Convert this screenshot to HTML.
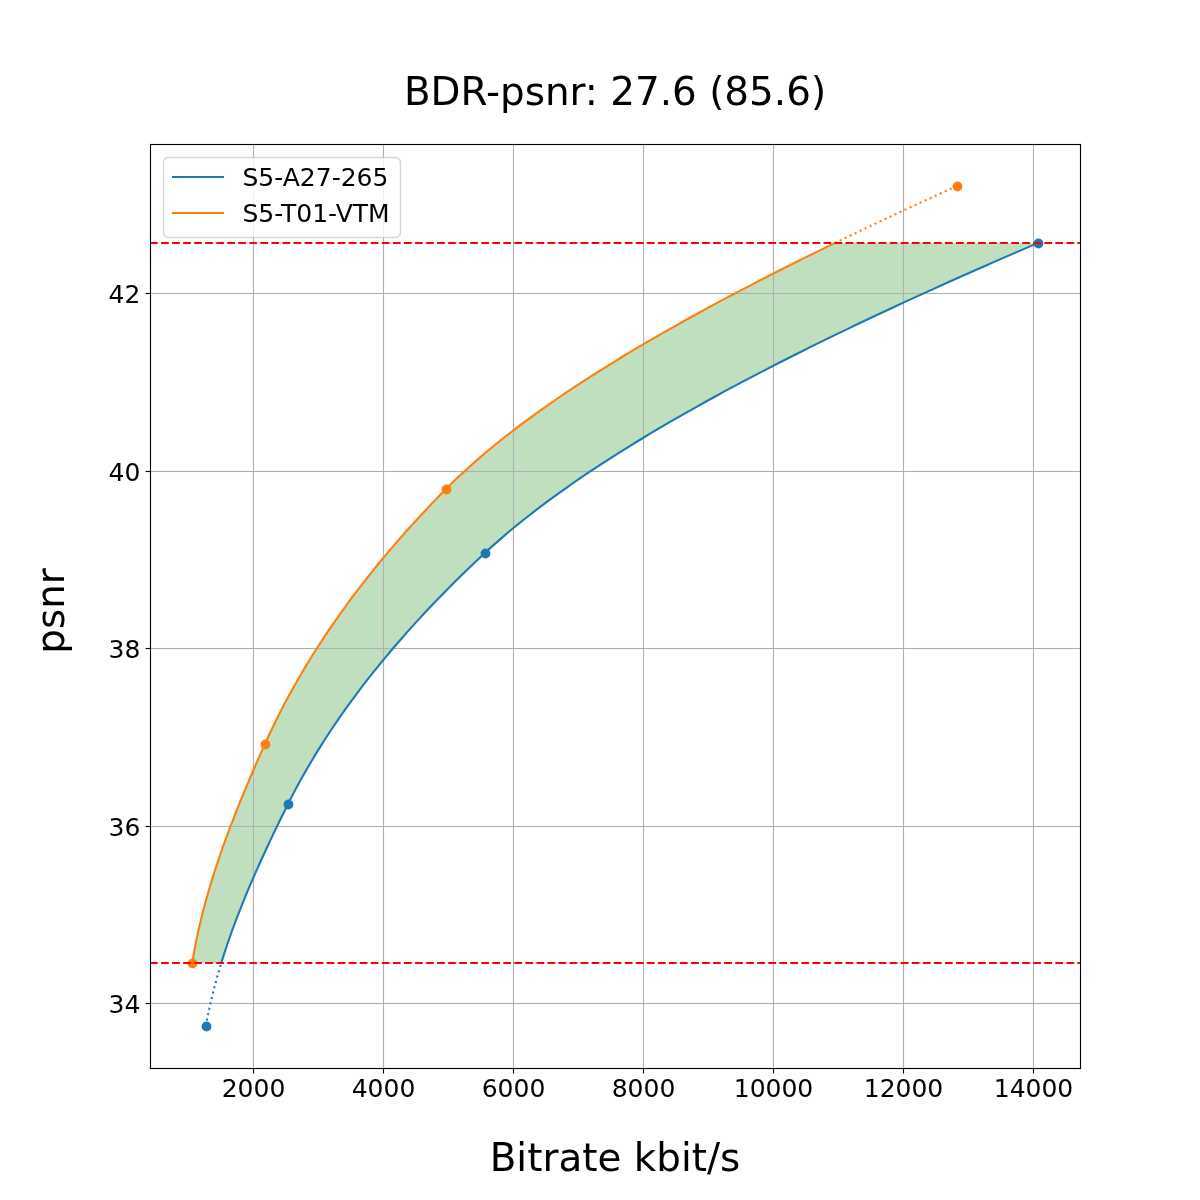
<!DOCTYPE html>
<html lang="en"><head><meta charset="utf-8"><title>BDR-psnr: 27.6 (85.6)</title>
<style>html,body{margin:0;padding:0;background:#fff}body{width:1200px;height:1200px;overflow:hidden}svg{display:block}text{font-family:"DejaVu Sans","Liberation Sans",sans-serif;fill:#000}.t18{font-size:25px}.t28{font-size:38.889px}</style></head><body>
<svg width="1200" height="1200" viewBox="0 0 1200 1200">
<rect width="1200" height="1200" fill="#fff"/>
<defs><clipPath id="ax"><rect x="150" y="144" width="930" height="924"/></clipPath></defs>
<g clip-path="url(#ax)">
<path d="M221.31,962.90 L222.72,958.37 L224.17,953.85 L225.65,949.32 L227.17,944.79 L228.73,940.26 L230.31,935.74 L231.93,931.21 L233.59,926.68 L235.27,922.15 L236.99,917.63 L238.73,913.10 L240.51,908.57 L242.31,904.05 L244.14,899.52 L246.00,894.99 L247.89,890.46 L249.80,885.94 L251.74,881.41 L253.70,876.88 L255.69,872.35 L257.70,867.83 L259.73,863.30 L261.78,858.77 L263.85,854.25 L265.94,849.72 L268.06,845.19 L270.19,840.66 L272.34,836.14 L274.50,831.61 L276.68,827.08 L278.88,822.55 L281.09,818.03 L283.32,813.50 L285.56,808.97 L287.81,804.45 L290.09,799.92 L292.41,795.39 L294.78,790.86 L297.19,786.34 L299.66,781.81 L302.16,777.28 L304.72,772.76 L307.31,768.23 L309.96,763.70 L312.65,759.17 L315.39,754.65 L318.17,750.12 L321.00,745.59 L323.88,741.06 L326.80,736.54 L329.77,732.01 L332.79,727.48 L335.85,722.96 L338.96,718.43 L342.11,713.90 L345.31,709.37 L348.56,704.85 L351.86,700.32 L355.20,695.79 L358.59,691.26 L362.02,686.74 L365.51,682.21 L369.04,677.68 L372.61,673.16 L376.24,668.63 L379.91,664.10 L383.63,659.57 L387.39,655.05 L391.20,650.52 L395.06,645.99 L398.97,641.46 L402.92,636.94 L406.93,632.41 L410.98,627.88 L415.07,623.36 L419.22,618.83 L423.41,614.30 L427.65,609.77 L431.94,605.25 L436.27,600.72 L440.66,596.19 L445.09,591.66 L449.57,587.14 L454.09,582.61 L458.67,578.08 L463.29,573.56 L467.96,569.03 L472.68,564.50 L477.45,559.97 L482.26,555.45 L487.13,550.92 L492.11,546.39 L497.19,541.86 L502.39,537.34 L507.70,532.81 L513.13,528.28 L518.66,523.76 L524.30,519.23 L530.04,514.70 L535.90,510.17 L541.86,505.65 L547.92,501.12 L554.09,496.59 L560.36,492.06 L566.74,487.54 L573.22,483.01 L579.79,478.48 L586.47,473.96 L593.24,469.43 L600.12,464.90 L607.09,460.37 L614.15,455.85 L621.31,451.32 L628.57,446.79 L635.92,442.26 L643.36,437.74 L650.89,433.21 L658.51,428.68 L666.22,424.16 L674.02,419.63 L681.91,415.10 L689.89,410.57 L697.95,406.05 L706.10,401.52 L714.33,396.99 L722.64,392.46 L731.04,387.94 L739.51,383.41 L748.07,378.88 L756.71,374.36 L765.43,369.83 L774.22,365.30 L783.09,360.77 L792.04,356.25 L801.06,351.72 L810.15,347.19 L819.32,342.66 L828.57,338.14 L837.88,333.61 L847.26,329.08 L856.71,324.56 L866.24,320.03 L875.83,315.50 L885.48,310.97 L895.20,306.45 L904.99,301.92 L914.84,297.39 L924.76,292.86 L934.73,288.34 L944.77,283.81 L954.87,279.28 L965.03,274.76 L975.24,270.23 L985.52,265.70 L995.85,261.17 L1006.24,256.65 L1016.68,252.12 L1027.18,247.59 L1037.73,243.06 L834.73,243.06 L825.43,247.59 L816.18,252.12 L807.00,256.65 L797.89,261.17 L788.84,265.70 L779.86,270.23 L770.94,274.76 L762.10,279.28 L753.32,283.81 L744.62,288.34 L735.99,292.86 L727.43,297.39 L718.94,301.92 L710.53,306.45 L702.20,310.97 L693.94,315.50 L685.76,320.03 L677.67,324.56 L669.65,329.08 L661.71,333.61 L653.85,338.14 L646.08,342.66 L638.39,347.19 L630.79,351.72 L623.27,356.25 L615.85,360.77 L608.51,365.30 L601.25,369.83 L594.09,374.36 L587.02,378.88 L580.05,383.41 L573.16,387.94 L566.38,392.46 L559.68,396.99 L553.09,401.52 L546.59,406.05 L540.19,410.57 L533.88,415.10 L527.68,419.63 L521.59,424.16 L515.59,428.68 L509.70,433.21 L503.91,437.74 L498.23,442.26 L492.65,446.79 L487.19,451.32 L481.83,455.85 L476.58,460.37 L471.44,464.90 L466.41,469.43 L461.50,473.96 L456.70,478.48 L452.02,483.01 L447.45,487.54 L442.98,492.06 L438.57,496.59 L434.20,501.12 L429.87,505.65 L425.60,510.17 L421.37,514.70 L417.18,519.23 L413.05,523.76 L408.96,528.28 L404.91,532.81 L400.91,537.34 L396.96,541.86 L393.05,546.39 L389.19,550.92 L385.37,555.45 L381.60,559.97 L377.88,564.50 L374.20,569.03 L370.56,573.56 L366.97,578.08 L363.42,582.61 L359.92,587.14 L356.46,591.66 L353.04,596.19 L349.67,600.72 L346.35,605.25 L343.07,609.77 L339.83,614.30 L336.63,618.83 L333.48,623.36 L330.37,627.88 L327.30,632.41 L324.28,636.94 L321.30,641.46 L318.36,645.99 L315.47,650.52 L312.61,655.05 L309.80,659.57 L307.03,664.10 L304.31,668.63 L301.62,673.16 L298.98,677.68 L296.38,682.21 L293.81,686.74 L291.30,691.26 L288.82,695.79 L286.38,700.32 L283.98,704.85 L281.63,709.37 L279.31,713.90 L277.04,718.43 L274.80,722.96 L272.61,727.48 L270.46,732.01 L268.34,736.54 L266.27,741.06 L264.23,745.59 L262.21,750.12 L260.20,754.65 L258.21,759.17 L256.22,763.70 L254.25,768.23 L252.30,772.76 L250.36,777.28 L248.44,781.81 L246.53,786.34 L244.64,790.86 L242.77,795.39 L240.91,799.92 L239.08,804.45 L237.27,808.97 L235.47,813.50 L233.70,818.03 L231.95,822.55 L230.22,827.08 L228.52,831.61 L226.84,836.14 L225.18,840.66 L223.55,845.19 L221.95,849.72 L220.37,854.25 L218.82,858.77 L217.30,863.30 L215.80,867.83 L214.34,872.35 L212.90,876.88 L211.50,881.41 L210.13,885.94 L208.79,890.46 L207.48,894.99 L206.21,899.52 L204.97,904.05 L203.76,908.57 L202.60,913.10 L201.46,917.63 L200.37,922.15 L199.31,926.68 L198.29,931.21 L197.31,935.74 L196.36,940.26 L195.46,944.79 L194.60,949.32 L193.78,953.85 L193.01,958.37 L192.27,962.90Z" fill="#008000" fill-opacity="0.25"/>
<g fill="#b0b0b0">
<rect x="252.9445" y="144" width="1.111" height="924"/>
<rect x="382.9445" y="144" width="1.111" height="924"/>
<rect x="512.9445" y="144" width="1.111" height="924"/>
<rect x="642.9445" y="144" width="1.111" height="924"/>
<rect x="772.9445" y="144" width="1.111" height="924"/>
<rect x="902.9445" y="144" width="1.111" height="924"/>
<rect x="1032.9445" y="144" width="1.111" height="924"/>
<rect x="150" y="1002.9445" width="930" height="1.111"/>
<rect x="150" y="825.9445" width="930" height="1.111"/>
<rect x="150" y="647.9445" width="930" height="1.111"/>
<rect x="150" y="470.9445" width="930" height="1.111"/>
<rect x="150" y="292.9445" width="930" height="1.111"/>
</g>
<g fill="none" stroke-width="2.083">
<path d="M221.31,962.90 L222.72,958.37 L224.17,953.85 L225.65,949.32 L227.17,944.79 L228.73,940.26 L230.31,935.74 L231.93,931.21 L233.59,926.68 L235.27,922.15 L236.99,917.63 L238.73,913.10 L240.51,908.57 L242.31,904.05 L244.14,899.52 L246.00,894.99 L247.89,890.46 L249.80,885.94 L251.74,881.41 L253.70,876.88 L255.69,872.35 L257.70,867.83 L259.73,863.30 L261.78,858.77 L263.85,854.25 L265.94,849.72 L268.06,845.19 L270.19,840.66 L272.34,836.14 L274.50,831.61 L276.68,827.08 L278.88,822.55 L281.09,818.03 L283.32,813.50 L285.56,808.97 L287.81,804.45 L290.09,799.92 L292.41,795.39 L294.78,790.86 L297.19,786.34 L299.66,781.81 L302.16,777.28 L304.72,772.76 L307.31,768.23 L309.96,763.70 L312.65,759.17 L315.39,754.65 L318.17,750.12 L321.00,745.59 L323.88,741.06 L326.80,736.54 L329.77,732.01 L332.79,727.48 L335.85,722.96 L338.96,718.43 L342.11,713.90 L345.31,709.37 L348.56,704.85 L351.86,700.32 L355.20,695.79 L358.59,691.26 L362.02,686.74 L365.51,682.21 L369.04,677.68 L372.61,673.16 L376.24,668.63 L379.91,664.10 L383.63,659.57 L387.39,655.05 L391.20,650.52 L395.06,645.99 L398.97,641.46 L402.92,636.94 L406.93,632.41 L410.98,627.88 L415.07,623.36 L419.22,618.83 L423.41,614.30 L427.65,609.77 L431.94,605.25 L436.27,600.72 L440.66,596.19 L445.09,591.66 L449.57,587.14 L454.09,582.61 L458.67,578.08 L463.29,573.56 L467.96,569.03 L472.68,564.50 L477.45,559.97 L482.26,555.45 L487.13,550.92 L492.11,546.39 L497.19,541.86 L502.39,537.34 L507.70,532.81 L513.13,528.28 L518.66,523.76 L524.30,519.23 L530.04,514.70 L535.90,510.17 L541.86,505.65 L547.92,501.12 L554.09,496.59 L560.36,492.06 L566.74,487.54 L573.22,483.01 L579.79,478.48 L586.47,473.96 L593.24,469.43 L600.12,464.90 L607.09,460.37 L614.15,455.85 L621.31,451.32 L628.57,446.79 L635.92,442.26 L643.36,437.74 L650.89,433.21 L658.51,428.68 L666.22,424.16 L674.02,419.63 L681.91,415.10 L689.89,410.57 L697.95,406.05 L706.10,401.52 L714.33,396.99 L722.64,392.46 L731.04,387.94 L739.51,383.41 L748.07,378.88 L756.71,374.36 L765.43,369.83 L774.22,365.30 L783.09,360.77 L792.04,356.25 L801.06,351.72 L810.15,347.19 L819.32,342.66 L828.57,338.14 L837.88,333.61 L847.26,329.08 L856.71,324.56 L866.24,320.03 L875.83,315.50 L885.48,310.97 L895.20,306.45 L904.99,301.92 L914.84,297.39 L924.76,292.86 L934.73,288.34 L944.77,283.81 L954.87,279.28 L965.03,274.76 L975.24,270.23 L985.52,265.70 L995.85,261.17 L1006.24,256.65 L1016.68,252.12 L1027.18,247.59 L1037.73,243.06" stroke="#1f77b4" stroke-linecap="square"/>
<path d="M192.27,962.90 L193.01,958.37 L193.78,953.85 L194.60,949.32 L195.46,944.79 L196.36,940.26 L197.31,935.74 L198.29,931.21 L199.31,926.68 L200.37,922.15 L201.46,917.63 L202.60,913.10 L203.76,908.57 L204.97,904.05 L206.21,899.52 L207.48,894.99 L208.79,890.46 L210.13,885.94 L211.50,881.41 L212.90,876.88 L214.34,872.35 L215.80,867.83 L217.30,863.30 L218.82,858.77 L220.37,854.25 L221.95,849.72 L223.55,845.19 L225.18,840.66 L226.84,836.14 L228.52,831.61 L230.22,827.08 L231.95,822.55 L233.70,818.03 L235.47,813.50 L237.27,808.97 L239.08,804.45 L240.91,799.92 L242.77,795.39 L244.64,790.86 L246.53,786.34 L248.44,781.81 L250.36,777.28 L252.30,772.76 L254.25,768.23 L256.22,763.70 L258.21,759.17 L260.20,754.65 L262.21,750.12 L264.23,745.59 L266.27,741.06 L268.34,736.54 L270.46,732.01 L272.61,727.48 L274.80,722.96 L277.04,718.43 L279.31,713.90 L281.63,709.37 L283.98,704.85 L286.38,700.32 L288.82,695.79 L291.30,691.26 L293.81,686.74 L296.38,682.21 L298.98,677.68 L301.62,673.16 L304.31,668.63 L307.03,664.10 L309.80,659.57 L312.61,655.05 L315.47,650.52 L318.36,645.99 L321.30,641.46 L324.28,636.94 L327.30,632.41 L330.37,627.88 L333.48,623.36 L336.63,618.83 L339.83,614.30 L343.07,609.77 L346.35,605.25 L349.67,600.72 L353.04,596.19 L356.46,591.66 L359.92,587.14 L363.42,582.61 L366.97,578.08 L370.56,573.56 L374.20,569.03 L377.88,564.50 L381.60,559.97 L385.37,555.45 L389.19,550.92 L393.05,546.39 L396.96,541.86 L400.91,537.34 L404.91,532.81 L408.96,528.28 L413.05,523.76 L417.18,519.23 L421.37,514.70 L425.60,510.17 L429.87,505.65 L434.20,501.12 L438.57,496.59 L442.98,492.06 L447.45,487.54 L452.02,483.01 L456.70,478.48 L461.50,473.96 L466.41,469.43 L471.44,464.90 L476.58,460.37 L481.83,455.85 L487.19,451.32 L492.65,446.79 L498.23,442.26 L503.91,437.74 L509.70,433.21 L515.59,428.68 L521.59,424.16 L527.68,419.63 L533.88,415.10 L540.19,410.57 L546.59,406.05 L553.09,401.52 L559.68,396.99 L566.38,392.46 L573.16,387.94 L580.05,383.41 L587.02,378.88 L594.09,374.36 L601.25,369.83 L608.51,365.30 L615.85,360.77 L623.27,356.25 L630.79,351.72 L638.39,347.19 L646.08,342.66 L653.85,338.14 L661.71,333.61 L669.65,329.08 L677.67,324.56 L685.76,320.03 L693.94,315.50 L702.20,310.97 L710.53,306.45 L718.94,301.92 L727.43,297.39 L735.99,292.86 L744.62,288.34 L753.32,283.81 L762.10,279.28 L770.94,274.76 L779.86,270.23 L788.84,265.70 L797.89,261.17 L807.00,256.65 L816.18,252.12 L825.43,247.59 L834.73,243.06" stroke="#ff7f0e" stroke-linecap="square"/>
<path d="M205.92,1026.00 L206.31,1023.82 L206.71,1021.65 L207.12,1019.47 L207.54,1017.30 L207.97,1015.12 L208.41,1012.94 L208.86,1010.77 L209.32,1008.59 L209.79,1006.42 L210.28,1004.24 L210.77,1002.07 L211.27,999.89 L211.79,997.71 L212.31,995.54 L212.85,993.36 L213.39,991.19 L213.94,989.01 L214.51,986.83 L215.08,984.66 L215.66,982.48 L216.25,980.31 L216.85,978.13 L217.46,975.96 L218.08,973.78 L218.71,971.60 L219.35,969.43 L219.99,967.25 L220.65,965.08 L221.31,962.90" stroke="#1f77b4" stroke-dasharray="2.083 3.4375"/>
<path d="M834.73,243.06 L837.75,241.60 L840.78,240.14 L843.82,238.68 L846.86,237.21 L849.90,235.75 L852.96,234.29 L856.02,232.82 L859.08,231.36 L862.15,229.90 L865.23,228.43 L868.31,226.97 L871.40,225.51 L874.50,224.04 L877.60,222.58 L880.71,221.12 L883.82,219.65 L886.94,218.19 L890.07,216.73 L893.20,215.26 L896.34,213.80 L899.48,212.34 L902.63,210.87 L905.78,209.41 L908.94,207.95 L912.11,206.48 L915.28,205.02 L918.46,203.56 L921.64,202.10 L924.83,200.63 L928.02,199.17 L931.22,197.71 L934.43,196.24 L937.64,194.78 L940.85,193.32 L944.07,191.85 L947.30,190.39 L950.53,188.93 L953.76,187.46 L957.00,186.00" stroke="#ff7f0e" stroke-dasharray="2.083 3.4375"/>
</g>
<g fill="#1f77b4">
<circle cx="206.5" cy="1026.5" r="4.9"/>
<circle cx="288.5" cy="804.5" r="4.9"/>
<circle cx="485.5" cy="553.5" r="4.9"/>
<circle cx="1038.5" cy="243.5" r="4.9"/>
</g>
<g fill="#ff7f0e">
<circle cx="192.5" cy="963.5" r="4.9"/>
<circle cx="265.5" cy="744.5" r="4.9"/>
<circle cx="446.5" cy="489.5" r="4.9"/>
<circle cx="957.5" cy="186.5" r="4.9"/>
</g>
<g stroke="#ff0000" stroke-width="2.083" stroke-dasharray="7.708 3.333" fill="none">
<path d="M150 963.0H1080"/>
<path d="M150 243.0H1080"/>
</g>
</g>
<g fill="#000">
<rect x="252.9445" y="1068.5" width="1.111" height="5"/>
<rect x="382.9445" y="1068.5" width="1.111" height="5"/>
<rect x="512.9445" y="1068.5" width="1.111" height="5"/>
<rect x="642.9445" y="1068.5" width="1.111" height="5"/>
<rect x="772.9445" y="1068.5" width="1.111" height="5"/>
<rect x="902.9445" y="1068.5" width="1.111" height="5"/>
<rect x="1032.9445" y="1068.5" width="1.111" height="5"/>
<rect x="145.5" y="1002.9445" width="5" height="1.111"/>
<rect x="145.5" y="825.9445" width="5" height="1.111"/>
<rect x="145.5" y="647.9445" width="5" height="1.111"/>
<rect x="145.5" y="470.9445" width="5" height="1.111"/>
<rect x="145.5" y="292.9445" width="5" height="1.111"/>
<rect x="149.9445" y="143.9445" width="931.1110" height="1.111"/>
<rect x="149.9445" y="1067.9445" width="931.1110" height="1.111"/>
<rect x="149.9445" y="143.9445" width="1.111" height="925.1110"/>
<rect x="1079.9445" y="143.9445" width="1.111" height="925.1110"/>
</g>
<g class="t18" text-anchor="middle">
<text x="253.5" y="1096.7">2000</text>
<text x="383.5" y="1096.7">4000</text>
<text x="513.5" y="1096.7">6000</text>
<text x="643.5" y="1096.7">8000</text>
<text x="773.5" y="1096.7">10000</text>
<text x="903.5" y="1096.7">12000</text>
<text x="1033.5" y="1096.7">14000</text>
</g><g class="t18" text-anchor="end">
<text x="140.3" y="1012.5">34</text>
<text x="140.3" y="835.5">36</text>
<text x="140.3" y="657.5">38</text>
<text x="140.3" y="480.5">40</text>
<text x="140.3" y="302.5">42</text>
</g>
<text class="t28" text-anchor="middle" x="615" y="1171.3">Bitrate kbit/s</text>
<text class="t28" text-anchor="middle" transform="translate(63.5 611) rotate(-90)">psnr</text>
<text class="t28" text-anchor="middle" x="615" y="105.1">BDR-psnr: 27.6 (85.6)</text>
<rect x="163.5" y="157.5" width="237" height="80" rx="5" ry="5" fill="#fff" stroke="#ccc" stroke-width="1.389" opacity="0.8"/>
<path d="M172 177H224" stroke="#1f77b4" stroke-width="2.083"/>
<path d="M172 213H224" stroke="#ff7f0e" stroke-width="2.083"/>
<text class="t18" x="242.5" y="185.5">S5-A27-265</text>
<text class="t18" x="242.5" y="222.2">S5-T01-VTM</text>
</svg></body></html>
